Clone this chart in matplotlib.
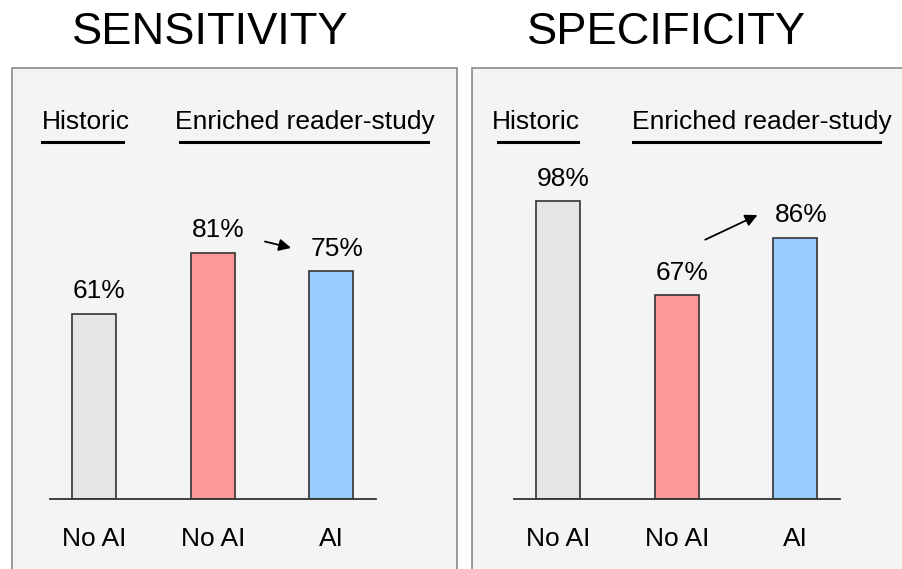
import matplotlib.pyplot as plt
from matplotlib.patches import Rectangle

plt.rcParams['font.family'] = ['Liberation Sans', 'DejaVu Sans']

# Values per panel: historic (no AI), reader study without AI, reader study with AI
titles = ['SENSITIVITY', 'SPECIFICITY']
categories = ['No AI', 'No AI', 'AI']
sensitivity = [61, 81, 75]
specificity = [98, 67, 86]
bar_colors = ['#e5e5e5', '#ff9999', '#99ccff']
groups = ['Historic', 'Enriched reader-study']

W, H = 903, 569
fig = plt.figure(figsize=(W / 100, H / 100), dpi=100)


def fx(px):
    return px / W


def fy(py):
    return 1 - py / H


# panel layout in pixels: box left/right, axes left/right, group label spans
panels = [
    dict(box=(12, 457), ax=(50, 376), title_x=210,
         group_text=[(42, 'left'), (305, 'center')],
         group_line=[(42, 123), (180, 428)],
         arrow=((1.44, 84.7), (1.66, 82.6))),
    dict(box=(472, 910), ax=(514, 840), title_x=667,
         group_text=[(492, 'left'), (762, 'center')],
         group_line=[(498, 578), (633, 880)],
         arrow=((1.24, 85.3), (1.68, 93.4))),
]

for p, title, vals in zip(panels, titles, [sensitivity, specificity]):
    # grey panel box, kept behind the axes
    bx0, bx1 = p['box']
    fig.patches.append(Rectangle((fx(bx0), fy(575)), fx(bx1 - bx0), (575 - 68) / H,
                                 transform=fig.transFigure, facecolor='#f4f4f4',
                                 edgecolor='#8a8a8a', linewidth=1.2, zorder=-1))
    fig.text(fx(p['title_x']), fy(33), title, fontsize=32.6, ha='center', va='center')

    # group headers with underline
    for (tx, ha), txt in zip(p['group_text'], groups):
        fig.text(fx(tx), fy(122), txt, fontsize=19, ha=ha, va='center')
    for lx0, lx1 in p['group_line']:
        fig.add_artist(plt.Line2D([fx(lx0), fx(lx1)], [fy(142), fy(142)],
                                  color='black', linewidth=2.2))

    ax0, ax1 = p['ax']
    ax = fig.add_axes([fx(ax0), fy(499), fx(ax1 - ax0), 304 / H])
    ax.set_facecolor('none')
    x = range(len(vals))
    ax.bar(x, vals, width=0.37, color=bar_colors, edgecolor='#333333', linewidth=1.2, zorder=2)
    ax.set_xlim(-0.37, 2.375)
    ax.set_ylim(0, 100)
    for side in ['top', 'right', 'left']:
        ax.spines[side].set_visible(False)
    ax.spines['bottom'].set_color('#333333')
    ax.spines['bottom'].set_linewidth(1.3)
    ax.set_yticks([])
    ax.set_xticks([])

    for i, v in enumerate(vals):
        ax.annotate(f'{v}%', xy=(i, v), xytext=(4, 11), textcoords='offset points',
                    ha='center', va='baseline', fontsize=19, annotation_clip=False)
        ax.annotate(categories[i], xy=(i, 0), xytext=(0, -28.5), textcoords='offset points',
                    ha='center', va='center', fontsize=19, annotation_clip=False)

    start, end = p['arrow']
    ax.annotate('', xy=end, xytext=start, annotation_clip=False,
                arrowprops=dict(arrowstyle='-|>', color='black', lw=1.3,
                                mutation_scale=18, shrinkA=0, shrinkB=0))

fig.savefig('out.png', dpi=100, facecolor='white')
